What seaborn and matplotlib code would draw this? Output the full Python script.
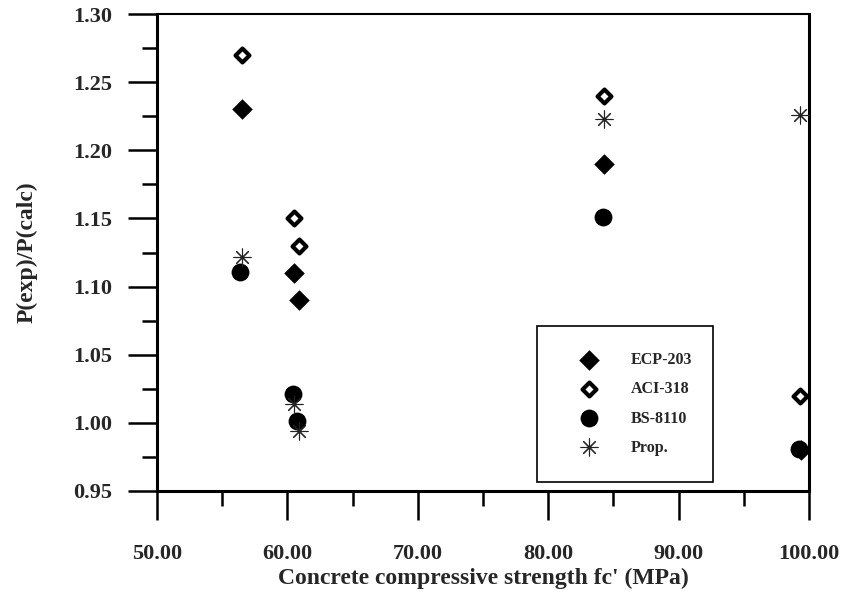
import numpy as np
import pandas as pd
import seaborn as sns
from matplotlib import pyplot as plt
from matplotlib.ticker import MultipleLocator, FormatStrFormatter

# values
ecp_x = [56.5, 60.5, 60.9, 84.3, 99.4]
ecp_y = [1.23, 1.11, 1.09, 1.19, 0.98]
aci_x = [56.5, 60.5, 60.9, 84.3, 99.3]
aci_y = [1.27, 1.15, 1.13, 1.24, 1.02]
bs_x = [56.4, 60.4, 60.75, 84.2, 99.2]
bs_y = [1.111, 1.021, 1.001, 1.151, 0.981]
prop_x = [56.5, 60.5, 60.9, 84.3, 99.3]
prop_y = [1.122, 1.014, 0.994, 1.223, 1.226]

sns.set_style("ticks")
plt.rcParams['font.family'] = ['Liberation Serif', 'DejaVu Serif']
plt.rcParams['font.weight'] = 'bold'

fig = plt.figure(figsize=(8.43, 5.95), dpi=100)
ax = fig.add_axes([157/843, 104/595, 652/843, 477/595])

sns.scatterplot(x=ecp_x, y=ecp_y, ax=ax, marker='D', s=110, color='black',
                edgecolor='black', linewidth=0, label='ECP-203', zorder=3)
sns.scatterplot(x=aci_x, y=aci_y, ax=ax, marker='D', s=50, facecolor='white',
                edgecolor='black', linewidth=3.0, label='ACI-318', zorder=3)
sns.scatterplot(x=bs_x, y=bs_y, ax=ax, marker='o', s=165, color='black',
                edgecolor='black', linewidth=0, label='BS-8110', zorder=3)
sns.scatterplot(x=prop_x, y=prop_y, ax=ax, marker=(8, 2, 0), s=150, color='#222222',
                linewidth=0.8, label='Prop.', zorder=4)

ax.set_xlim(50, 100)
ax.set_ylim(0.95, 1.30)
ax.xaxis.set_major_locator(MultipleLocator(10))
ax.xaxis.set_minor_locator(MultipleLocator(5))
ax.yaxis.set_major_locator(MultipleLocator(0.05))
ax.yaxis.set_minor_locator(MultipleLocator(0.025))
ax.xaxis.set_major_formatter(FormatStrFormatter('%.2f'))
ax.yaxis.set_major_formatter(FormatStrFormatter('%.2f'))

ax.tick_params(axis='both', which='major', direction='out', length=21, width=1.8,
               labelsize=16, color='black')
ax.tick_params(axis='x', which='major', pad=17)
ax.tick_params(axis='y', which='major', pad=11)
ax.tick_params(axis='both', which='minor', direction='out', length=10.5, width=1.8,
               color='black')
ax.tick_params(top=False, right=False, which='both')
for lab in ax.get_xticklabels() + ax.get_yticklabels():
    lab.set_fontweight('bold')

for side in ['left', 'bottom', 'right']:
    ax.spines[side].set_linewidth(2.2)
ax.spines['top'].set_linewidth(1.5)
for sp in ax.spines.values():
    sp.set_visible(True)
    sp.set_color('black')

ax.set_xlabel("Concrete compressive strength fc' (MPa)", fontsize=17, fontweight='bold')
ax.set_ylabel("P(exp)/P(calc)", fontsize=17, fontweight='bold')
ax.xaxis.set_label_coords(0.5, -0.162)
ax.yaxis.set_label_coords(-0.183, 0.5)

leg = ax.legend(loc='upper left', bbox_to_anchor=(0.583, 0.017, 0.27, 0.329),
                mode='expand', borderaxespad=0, fancybox=False, frameon=True,
                edgecolor='black', framealpha=1, prop={'size': 11.5, 'weight': 'bold'},
                borderpad=1.65, labelspacing=0.82, handlelength=3.15, handletextpad=1.06)
leg.get_frame().set_linewidth(1.2)

plt.savefig("out.png", dpi=100)
